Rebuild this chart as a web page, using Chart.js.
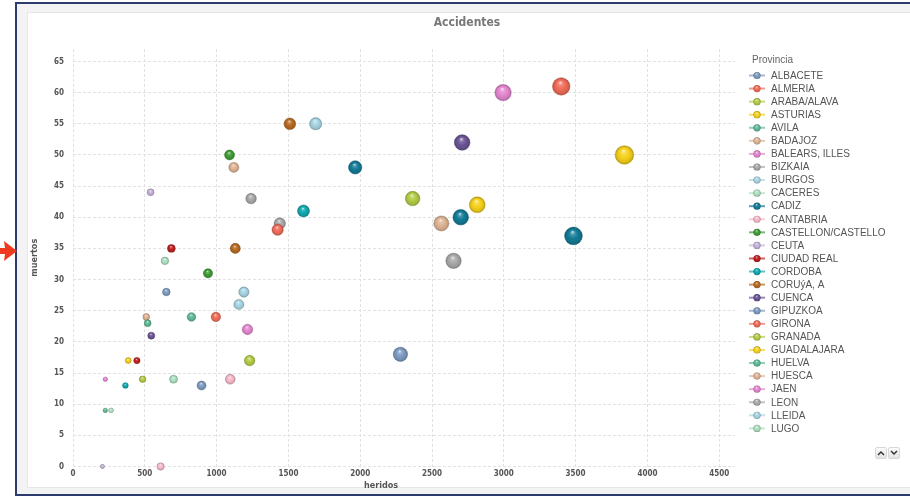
<!DOCTYPE html>
<html>
<head>
<meta charset="utf-8">
<title>Accidentes</title>
<script src="https://cdn.jsdelivr.net/npm/chart.js@4.4.1/dist/chart.umd.min.js"></script>
<style>
  html, body { margin: 0; padding: 0; background: #fff; width: 910px; height: 500px; overflow: hidden; }
  #frame { position: absolute; left: 15px; top: 2px; width: 920px; height: 490px; border: 2px solid #2d3a6d; background: #f3f3f3; }
  #panel { position: absolute; left: 27px; top: 12px; width: 900px; height: 476px; background: #fff; border: 1px solid #e6e6e6; box-sizing: border-box; }
  #chart { position: absolute; left: 0; top: 0; }
  #arrow { position: absolute; left: 0; top: 238px; }
  #scroll { position: absolute; left: 875px; top: 447px; display: flex; gap: 1px; }
  .btn { width: 12px; height: 12px; background: linear-gradient(#fafafa, #e4e4e4); border: 1px solid #d8d8d8; border-radius: 2px; box-sizing: border-box; display: flex; align-items: center; justify-content: center; }
</style>
</head>
<body>
<div id="frame"></div>
<div id="panel"></div>
<svg id="arrow" width="20" height="26" viewBox="0 0 20 26">
  <polygon points="0,10 5,10 4,3 17,13 4,23 5,16 0,16" fill="#ee3a1e"/>
</svg>
<canvas id="chart" width="910" height="500"></canvas>
<div id="scroll">
  <div class="btn"><svg width="8" height="6"><path d="M1 5 L4 2 L7 5" stroke="#333" stroke-width="1.5" fill="none"/></svg></div>
  <div class="btn"><svg width="8" height="6"><path d="M1 1 L4 4 L7 1" stroke="#333" stroke-width="1.5" fill="none"/></svg></div>
</div>
<script>
// Provinces, injured (heridos) and deaths (muertos)
const provincias = [
  'ALBACETE', 'ALMERIA', 'ARABA/ALAVA', 'ASTURIAS', 'AVILA', 'BADAJOZ', 'BALEARS, ILLES',
  'BIZKAIA', 'BURGOS', 'CACERES', 'CADIZ', 'CANTABRIA', 'CASTELLON/CASTELLO', 'CEUTA',
  'CIUDAD REAL', 'CORDOBA', 'CORUýA, A', 'CUENCA', 'GIPUZKOA', 'GIRONA', 'GRANADA',
  'GUADALAJARA', 'HUELVA', 'HUESCA', 'JAEN', 'LEON', 'LLEIDA', 'LUGO',
  'MALAGA', 'MELILLA', 'MURCIA', 'NAVARRA', 'OURENSE', 'PALENCIA', 'PALMAS, LAS',
  'PONTEVEDRA', 'RIOJA, LA', 'SALAMANCA', 'SANTA CRUZ DE TENERIFE', 'SEGOVIA', 'SORIA',
  'TARRAGONA', 'TERUEL', 'TOLEDO', 'VALLADOLID', 'ZAMORA', 'ZARAGOZA'
];
const heridos = [
  650, 1425, 485, 3840, 520, 1120, 2995,
  1440, 1190, 700, 2700, 1095, 940, 205,
  685, 1605, 1510, 545, 2280, 3400, 2365,
  385, 825, 510, 1215, 1240, 1690, 640,
  3485, 610, 1090, 540, 445, 365, 1130,
  2710, 895, 995, 1230, 2815, 225,
  2565, 225, 2650, 1155, 265, 1965
];
const muertos = [
  28, 38, 14, 50, 23, 48, 60,
  39, 28, 14, 40, 14, 31, 0,
  35, 41, 55, 21, 18, 61, 43,
  17, 24, 24, 22, 43, 55, 33,
  37, 0, 50, 44, 17, 13, 35,
  52, 13, 24, 17, 42, 9,
  39, 14, 33, 26, 9, 48
];
// Axis tick values
const xTicks = [0, 500, 1000, 1500, 2000, 2500, 3000, 3500, 4000, 4500];
const yTicks = [0, 5, 10, 15, 20, 25, 30, 35, 40, 45, 50, 55, 60, 65];
// Series colour cycle
const paleta = [
  '#7d9bc1', '#f06c58', '#b2cc45', '#f5d11a', '#5fba96', '#deb394', '#e486d0', '#a9a9a9', '#a6d4e2',
  '#ace0c0', '#137b96', '#f6b8c8', '#3f9c35', '#c4b2da', '#be2020', '#10a8b0', '#b86a20', '#6a5596'
];
const LEGEND_VISIBLE = 28;

function hexRgb(h) {
  const n = parseInt(h.slice(1), 16);
  return [(n >> 16) & 255, (n >> 8) & 255, n & 255];
}
function mix(h, t, k) {
  const a = hexRgb(h), b = hexRgb(t);
  const c = a.map((v, i) => Math.round(v + (b[i] - v) * k));
  return `rgb(${c[0]},${c[1]},${c[2]})`;
}
// Glossy sphere fill for a bubble centred at (cx, cy)
function sphere(g, cx, cy, r, hex) {
  const grad = g.createRadialGradient(cx - r * 0.1, cy - r * 0.45, r * 0.05, cx, cy + r * 0.05, r);
  grad.addColorStop(0, mix(hex, '#ffffff', 0.7));
  grad.addColorStop(0.2, mix(hex, '#ffffff', 0.2));
  grad.addColorStop(0.5, hex);
  grad.addColorStop(0.82, mix(hex, '#000000', 0.1));
  grad.addColorStop(1, mix(hex, '#000000', 0.32));
  return grad;
}
const bubbleRadius = h => 0.15 * Math.sqrt(h);

const datasets = provincias.map((p, i) => {
  const color = paleta[i % paleta.length];
  return {
    label: p,
    data: [{ x: heridos[i], y: muertos[i] }],
    baseColor: color,
    radius: c => (c.raw ? bubbleRadius(c.raw.x) : 3),
    backgroundColor: color,
    borderColor: mix(color, '#000000', 0.2),
    borderWidth: 0.5,
    clip: false
  };
});

// Give each bubble its shaded sphere fill once the elements are positioned
const shading = {
  id: 'shading',
  beforeDatasetsDraw(chart) {
    chart.getSortedVisibleDatasetMetas().forEach(meta => {
      const col = chart.data.datasets[meta.index].baseColor;
      meta.data.forEach(el => {
        const r = el.options.radius;
        if (Number.isFinite(el.x) && Number.isFinite(el.y) && r > 0) {
          el.options.backgroundColor = sphere(chart.ctx, el.x, el.y, r, col);
        }
      });
    });
  }
};

// Title, x-axis title and the right-hand legend panel
const decor = {
  id: 'decor',
  afterDraw(chart) {
    const g = chart.ctx;
    g.save();
    g.textBaseline = 'middle';
    g.textAlign = 'center';
    g.fillStyle = '#777';
    g.font = 'bold 12px "DejaVu Sans Condensed", "DejaVu Sans", sans-serif';
    g.fillText('Accidentes', 467, 23);
    g.fillStyle = '#555';
    g.font = 'bold 9px "DejaVu Sans Condensed", "DejaVu Sans", sans-serif';
    g.fillText('heridos', 381, 486);

    g.textAlign = 'left';
    g.font = '10px "Liberation Sans", Arial, sans-serif';
    g.fillStyle = '#666';
    g.fillText('Provincia', 752, 60);
    const ds = chart.data.datasets;
    for (let i = 0; i < Math.min(LEGEND_VISIBLE, ds.length); i++) {
      const y = 75.5 + i * 13.07;
      const col = ds[i].baseColor;
      g.strokeStyle = mix(col, '#ffffff', 0.3);
      g.lineWidth = 2;
      g.beginPath(); g.moveTo(749, y); g.lineTo(765, y); g.stroke();
      g.beginPath();
      g.arc(757, y, 3.6, 0, Math.PI * 2);
      g.fillStyle = sphere(g, 757, y, 3.6, col);
      g.fill();
      g.fillStyle = '#555';
      g.fillText(ds[i].label, 771, y + 0.5);
    }
    g.restore();
  }
};

const tickFont = { family: '"DejaVu Sans Condensed", "DejaVu Sans", sans-serif', size: 8, weight: 'bold' };

new Chart(document.getElementById('chart'), {
  type: 'bubble',
  data: { datasets },
  options: {
    responsive: false,
    devicePixelRatio: 1,
    animation: false,
    layout: { padding: { left: 27, top: 49, right: 175, bottom: 9 } },
    plugins: {
      legend: { display: false },
      title: { display: false },
      tooltip: { enabled: true }
    },
    scales: {
      x: {
        type: 'linear',
        min: 0, max: 4610,
        afterFit: s => { s.height = 24.5; },
        afterBuildTicks: s => { s.ticks = xTicks.map(v => ({ value: v })); },
        ticks: { padding: 3, color: '#555', font: tickFont, maxRotation: 0, autoSkip: false, callback: v => String(v) },
        grid: { color: '#e2e2e2', drawTicks: false },
        border: { display: false, dash: [3, 2] }
      },
      y: {
        type: 'linear',
        min: 0, max: 67,
        afterFit: s => { s.width = 46; },
        afterBuildTicks: s => { s.ticks = yTicks.map(v => ({ value: v })); },
        ticks: { padding: 9, color: '#555', font: tickFont, autoSkip: false, callback: v => String(v) },
        grid: { color: '#e2e2e2', drawTicks: false },
        border: { display: false, dash: [3, 2] },
        title: { display: true, text: 'muertos', color: '#555', padding: { top: 2, bottom: 0 },
                 font: { family: '"DejaVu Sans Condensed", "DejaVu Sans", sans-serif', size: 9, weight: 'bold' } }
      }
    }
  },
  plugins: [shading, decor]
});
</script>
</body>
</html>
